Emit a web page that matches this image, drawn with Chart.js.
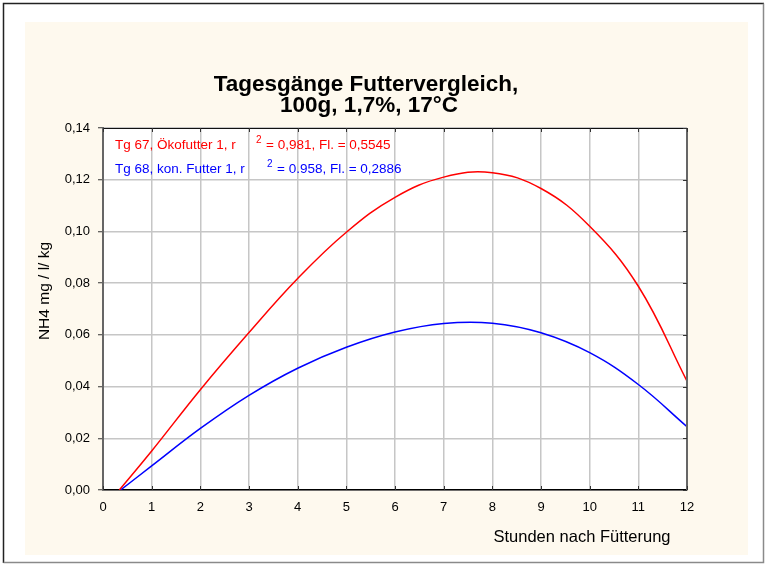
<!DOCTYPE html>
<html>
<head>
<meta charset="utf-8">
<script src="https://cdn.jsdelivr.net/npm/chart.js@4/dist/chart.umd.min.js"></script>
<style>
  html, body { margin: 0; padding: 0; background: #ffffff; }
  #wrap { width: 767px; height: 566px; }
</style>
</head>
<body>
<div id="wrap"><canvas id="c" width="767" height="566"></canvas></div>
<script>
// Daily NH4 course after feeding, two feeds compared (fitted curves)
const titleLines = ['Tagesgänge Futtervergleich,', '100g, 1,7%, 17°C'];
const xTitle = 'Stunden nach Fütterung';
const yTitle = 'NH4 mg / l/ kg';

const hoursOeko = [0.335, 1, 2, 3, 4, 5, 6, 7, 8, 9, 10, 11, 12];
const nh4Oeko   = [0, 0.0151, 0.0388, 0.0609, 0.0818, 0.0997, 0.1132, 0.1210, 0.1227, 0.1166, 0.1020, 0.0788, 0.0421];

const hoursKon = [0.36, 1, 2, 3, 4, 5, 6, 7, 8, 9, 10, 11, 12];
const nh4Kon   = [0, 0.0093, 0.0238, 0.0366, 0.0471, 0.0552, 0.0611, 0.0644, 0.0645, 0.0608, 0.0531, 0.0408, 0.0245];

// Fit statistics shown in the plot corner
const labelOeko = ['Tg 67, Ökofutter 1, r', '2', '= 0,981, Fl. = 0,5545'];
const labelKon  = ['Tg 68, kon. Futter 1, r', '2', '= 0.958, Fl. = 0,2886'];

const xMin = 0, xMax = 12, xStep = 1;
const yMin = 0, yMax = 0.14, yStep = 0.02;

const FONT = "'Liberation Sans', Arial, sans-serif";
const RED = '#ff0000', BLUE = '#0000ff';

const toPoints = (xs, ys) => xs.map((x, i) => ({ x, y: ys[i] }));

const framePlugin = {
  id: 'frame',
  beforeDraw(chart) {
    const { ctx, width, height, chartArea: a } = chart;
    ctx.save();
    ctx.fillStyle = '#ffffff';
    ctx.fillRect(0, 0, width, height);
    // outer border
    ctx.lineWidth = 1.5;
    ctx.strokeStyle = '#222222';
    ctx.beginPath();
    ctx.moveTo(3.5, height - 3); ctx.lineTo(3.5, 3.5); ctx.lineTo(width - 3, 3.5);
    ctx.stroke();
    ctx.strokeStyle = '#8a8a8a';
    ctx.beginPath();
    ctx.moveTo(width - 3.5, 3.5); ctx.lineTo(width - 3.5, height - 3.5); ctx.lineTo(3.5, height - 3.5);
    ctx.stroke();
    // cream panel
    ctx.fillStyle = '#fef9ee';
    ctx.fillRect(25, 22, 723, 533);
    // white plot area
    ctx.fillStyle = '#ffffff';
    ctx.fillRect(a.left, a.top, a.right - a.left, a.bottom - a.top);
    ctx.restore();
  },
  afterDraw(chart) {
    const { ctx, chartArea: a, scales } = chart;
    ctx.save();
    // top and right frame lines
    ctx.strokeStyle = '#111111';
    ctx.lineWidth = 1;
    ctx.beginPath();
    ctx.moveTo(a.left, a.top + 0.5); ctx.lineTo(a.right, a.top + 0.5);
    ctx.stroke();
    ctx.strokeStyle = '#666666';
    ctx.lineWidth = 2;
    ctx.beginPath();
    ctx.moveTo(a.right, a.top); ctx.lineTo(a.right, a.bottom);
    ctx.stroke();
    // inward tick marks on right, top and bottom
    ctx.strokeStyle = '#333333';
    ctx.lineWidth = 1;
    scales.y.ticks.forEach(t => {
      const py = Math.round(scales.y.getPixelForValue(t.value)) + 0.5;
      ctx.beginPath(); ctx.moveTo(a.right - 4, py); ctx.lineTo(a.right, py); ctx.stroke();
    });
    scales.x.ticks.forEach(t => {
      const px = Math.round(scales.x.getPixelForValue(t.value)) + 0.5;
      ctx.beginPath(); ctx.moveTo(px, a.top); ctx.lineTo(px, a.top + 4); ctx.stroke();
      ctx.beginPath(); ctx.moveTo(px, a.bottom - 4); ctx.lineTo(px, a.bottom); ctx.stroke();
    });

    // title
    ctx.fillStyle = '#000000';
    ctx.font = 'bold 22.5px ' + FONT;
    ctx.textAlign = 'center';
    ctx.textBaseline = 'alphabetic';
    ctx.fillText(titleLines[0], 366, 91);
    ctx.fillText(titleLines[1], 369, 112);

    // axis titles
    ctx.font = '16.5px ' + FONT;
    ctx.textAlign = 'center';
    ctx.textBaseline = 'middle';
    ctx.fillText(xTitle, 582, 537);
    ctx.save();
    ctx.translate(45, 291);
    ctx.rotate(-Math.PI / 2);
    ctx.font = '15.5px ' + FONT;
    ctx.fillText(yTitle, 0, 0);
    ctx.restore();

    // fit statistics
    const drawStat = (parts, color, x0, base, supX, restX) => {
      ctx.fillStyle = color;
      ctx.textAlign = 'left';
      ctx.textBaseline = 'alphabetic';
      ctx.font = '13.5px ' + FONT;
      ctx.fillText(parts[0], x0, base);
      ctx.font = '10px ' + FONT;
      ctx.fillText(parts[1], supX, base - 6);
      ctx.font = '13.5px ' + FONT;
      ctx.fillText(parts[2], restX, base);
    };
    drawStat(labelOeko, RED, a.left + 12, 149, a.left + 153, a.left + 163);
    drawStat(labelKon, BLUE, a.left + 12, 173, a.left + 164, a.left + 174);
    ctx.restore();
  }
};

new Chart(document.getElementById('c'), {
  type: 'line',
  data: {
    datasets: [
      {
        label: 'Tg 67',
        data: toPoints(hoursOeko, nh4Oeko),
        borderColor: RED,
        borderWidth: 1.5,
        pointRadius: 0,
        tension: 0.4,
        fill: false
      },
      {
        label: 'Tg 68',
        data: toPoints(hoursKon, nh4Kon),
        borderColor: BLUE,
        borderWidth: 1.5,
        pointRadius: 0,
        tension: 0.4,
        fill: false
      }
    ]
  },
  options: {
    responsive: false,
    animation: false,
    devicePixelRatio: 1,
    layout: { padding: { left: 0, right: 80, top: 128, bottom: 0 } },
    plugins: {
      legend: { display: false },
      title: { display: false },
      tooltip: { enabled: false }
    },
    scales: {
      x: {
        type: 'linear',
        min: xMin, max: xMax,
        afterFit(scale) { scale.height = 76; },
        ticks: {
          stepSize: xStep,
          color: '#000000',
          font: { family: FONT, size: 13 },
          padding: 10,
          maxRotation: 0
        },
        grid: { color: '#c6c6c6', lineWidth: 1.5, drawTicks: false },
        border: { color: '#000000', width: 1.5 }
      },
      y: {
        type: 'linear',
        min: yMin, max: yMax,
        afterFit(scale) { scale.width = 103; },
        ticks: {
          stepSize: yStep,
          color: '#000000',
          font: { family: FONT, size: 13 },
          padding: 8,
          callback: v => v.toFixed(2).replace('.', ',')
        },
        grid: { color: '#c6c6c6', lineWidth: 1.5, tickLength: 5, tickColor: '#333333', tickWidth: 1 },
        border: { color: '#666666', width: 2 }
      }
    }
  },
  plugins: [framePlugin]
});
</script>
</body>
</html>
